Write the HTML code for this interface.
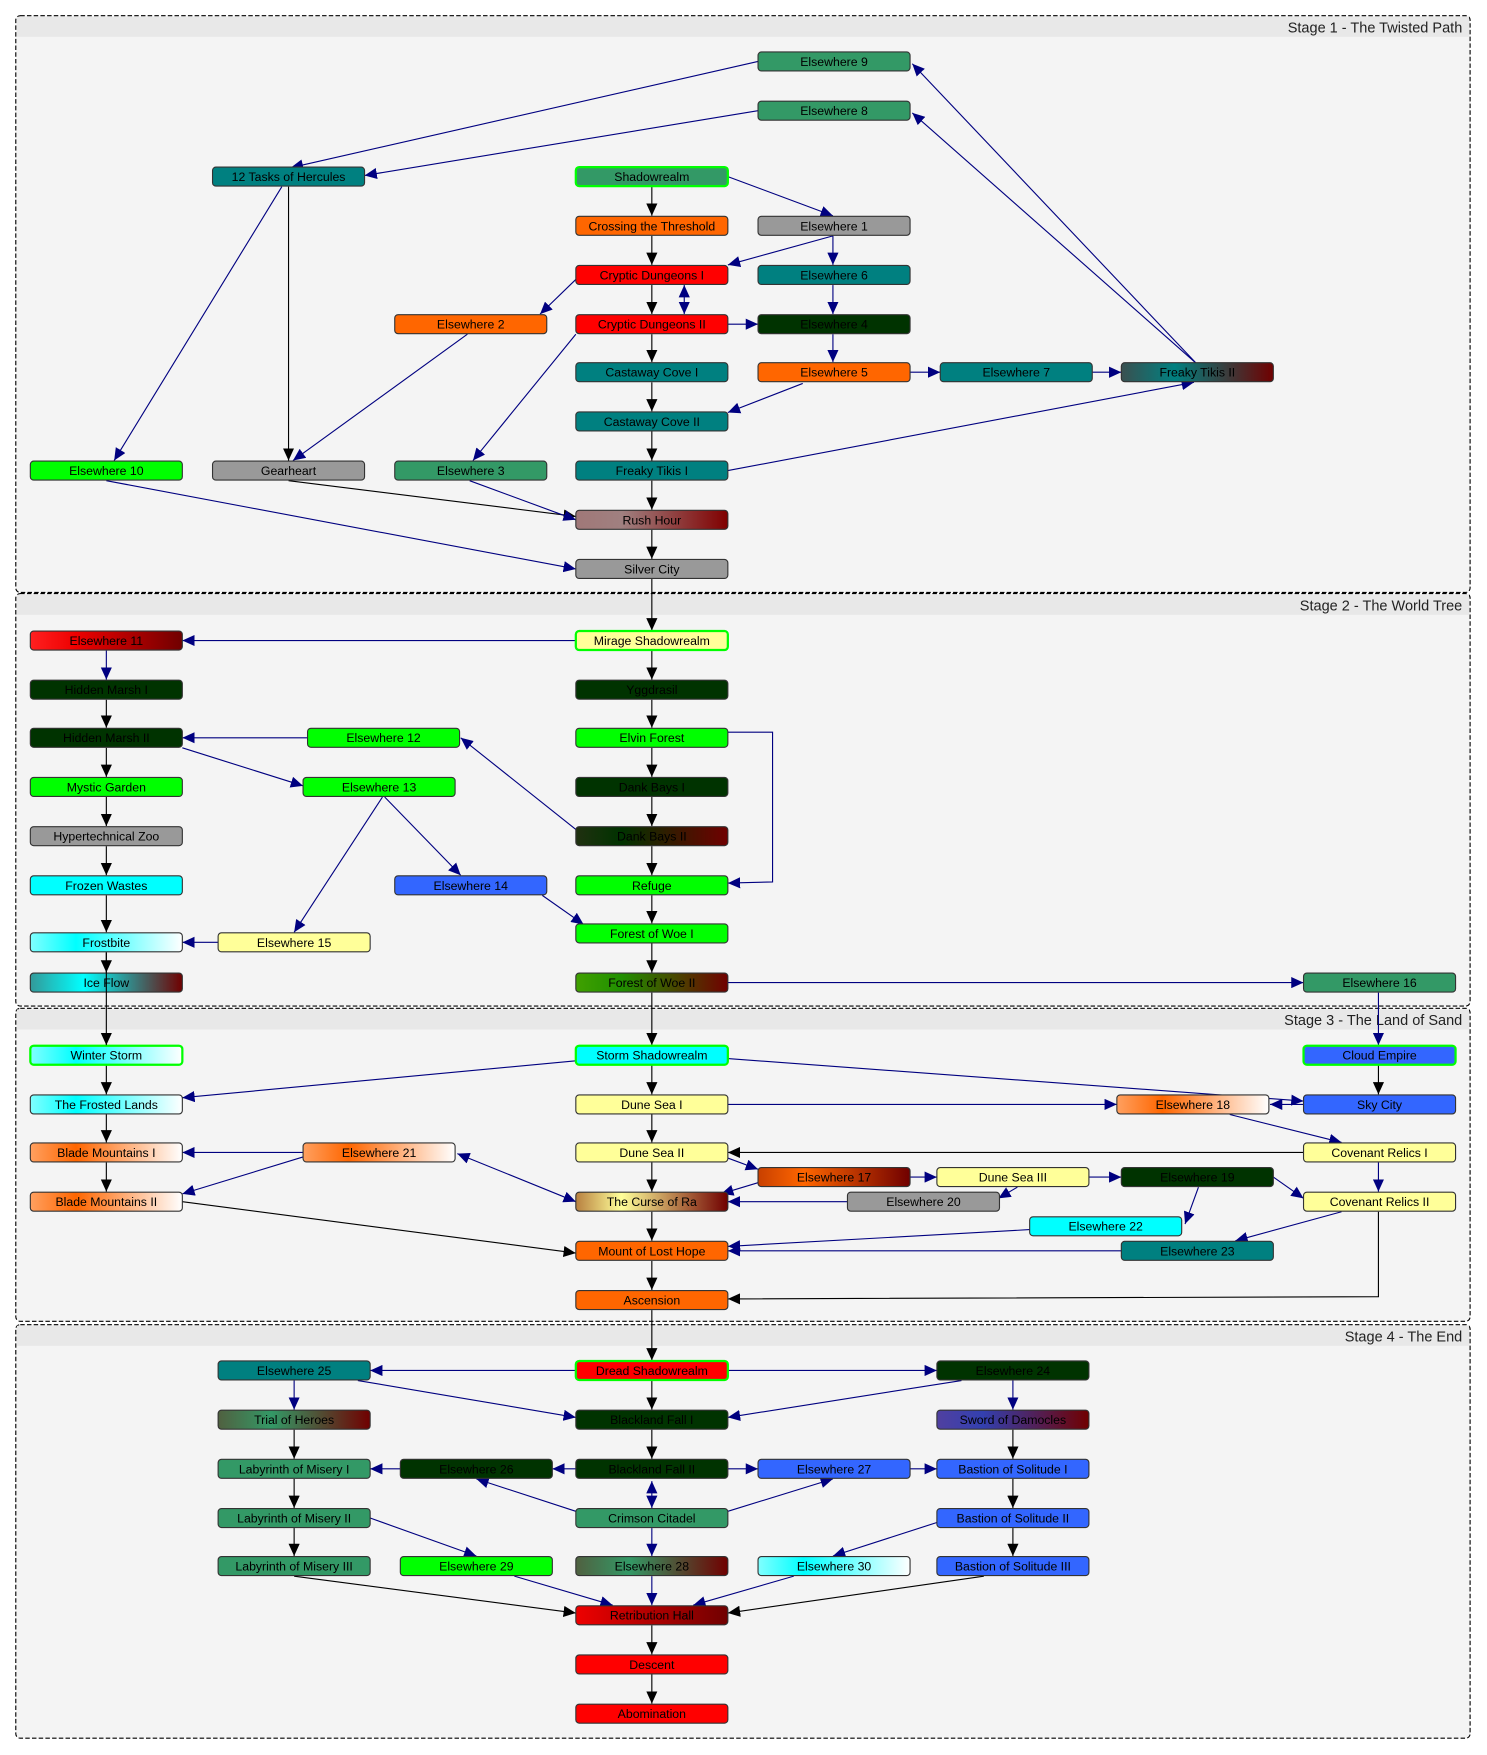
<!DOCTYPE html>
<html><head><meta charset="utf-8"><style>
html,body{margin:0;padding:0;background:#fff;}
svg{display:block;}
text{font-family:"Liberation Sans",Arial,sans-serif;}
.n text{font-size:11px;text-anchor:middle;fill:#000;}
.b{stroke:#000;stroke-width:1;fill:none;}
.v{stroke:#000080;stroke-width:1;fill:none;}
</style></head><body>
<svg width="1487" height="1755" viewBox="0 0 1330 1570" xmlns="http://www.w3.org/2000/svg">
<defs>
<marker id="ab" markerUnits="userSpaceOnUse" markerWidth="12" markerHeight="10" refX="11" refY="5" orient="auto"><path d="M0,0 L11,5 L0,10 z" fill="#000"/></marker>
<marker id="av" markerUnits="userSpaceOnUse" markerWidth="12" markerHeight="10" refX="11" refY="5" orient="auto-start-reverse"><path d="M0,0 L11,5 L0,10 z" fill="#000080"/></marker>
<linearGradient id="gTR"><stop offset="0" stop-color="#3a5050"/><stop offset=".35" stop-color="#008080"/><stop offset="1" stop-color="#700000"/></linearGradient>
<linearGradient id="gCR"><stop offset="0" stop-color="#339999"/><stop offset=".35" stop-color="#00ffff"/><stop offset="1" stop-color="#700000"/></linearGradient>
<linearGradient id="gGR"><stop offset="0" stop-color="#a07878"/><stop offset=".3" stop-color="#a08080"/><stop offset="1" stop-color="#800000"/></linearGradient>
<linearGradient id="gRR"><stop offset="0" stop-color="#ff2020"/><stop offset=".3" stop-color="#ee0000"/><stop offset="1" stop-color="#700000"/></linearGradient>
<linearGradient id="gDR"><stop offset="0" stop-color="#203010"/><stop offset=".3" stop-color="#003300"/><stop offset="1" stop-color="#700000"/></linearGradient>
<linearGradient id="gFR"><stop offset="0" stop-color="#40a000"/><stop offset=".3" stop-color="#209000"/><stop offset="1" stop-color="#700000"/></linearGradient>
<linearGradient id="gCW"><stop offset="0" stop-color="#80ffff"/><stop offset=".3" stop-color="#00ffff"/><stop offset="1" stop-color="#ffffff"/></linearGradient>
<linearGradient id="gOW"><stop offset="0" stop-color="#ffa060"/><stop offset=".3" stop-color="#ff6600"/><stop offset="1" stop-color="#ffffff"/></linearGradient>
<linearGradient id="gOR"><stop offset="0" stop-color="#c84000"/><stop offset=".3" stop-color="#ff6600"/><stop offset="1" stop-color="#700000"/></linearGradient>
<linearGradient id="gYR"><stop offset="0" stop-color="#b88040"/><stop offset=".3" stop-color="#ffff99"/><stop offset="1" stop-color="#700000"/></linearGradient>
<linearGradient id="gSR"><stop offset="0" stop-color="#506040"/><stop offset=".35" stop-color="#339966"/><stop offset="1" stop-color="#700000"/></linearGradient>
<linearGradient id="gBR"><stop offset="0" stop-color="#5040a0"/><stop offset=".3" stop-color="#3340b0"/><stop offset="1" stop-color="#700000"/></linearGradient>
<linearGradient id="gRH"><stop offset="0" stop-color="#ee0000"/><stop offset="1" stop-color="#700000"/></linearGradient>
</defs>

<!-- stages -->
<g stroke="#000" stroke-dasharray="4,2" stroke-width="1">
<rect x="14" y="14" width="1301" height="516" rx="4" fill="#f4f4f4"/>
<rect x="14" y="531" width="1301" height="369" rx="4" fill="#f4f4f4"/>
<rect x="14" y="902" width="1301" height="280" rx="4" fill="#f4f4f4"/>
<rect x="14" y="1185" width="1301" height="370" rx="4" fill="#f4f4f4"/>
</g>
<g fill="#e8e8e8">
<rect x="15" y="15" width="1299" height="18"/>
<rect x="15" y="532" width="1299" height="18"/>
<rect x="15" y="903" width="1299" height="18"/>
<rect x="15" y="1186" width="1299" height="18"/>
</g>
<g font-size="13" text-anchor="end" fill="#222">
<text x="1308" y="29">Stage 1 - The Twisted Path</text>
<text x="1308" y="546">Stage 2 - The World Tree</text>
<text x="1308" y="917">Stage 3 - The Land of Sand</text>
<text x="1308" y="1200">Stage 4 - The End</text>
</g>

<!-- edges -->
<g class="b" marker-end="url(#ab)">
<line x1="258" y1="167" x2="258" y2="412"/>
<line x1="583" y1="167" x2="583" y2="193"/>
<line x1="583" y1="211" x2="583" y2="237"/>
<line x1="583" y1="255" x2="583" y2="281"/>
<line x1="583" y1="299" x2="583" y2="324"/>
<line x1="583" y1="342" x2="583" y2="368"/>
<line x1="583" y1="386" x2="583" y2="412"/>
<line x1="583" y1="430" x2="583" y2="456"/>
<line x1="258" y1="430" x2="515" y2="462"/>
<line x1="583" y1="474" x2="583" y2="500"/>
<line x1="583" y1="518" x2="583" y2="564"/>
<line x1="583" y1="582" x2="583" y2="608"/>
<line x1="95" y1="626" x2="95" y2="651"/>
<line x1="583" y1="626" x2="583" y2="651"/>
<line x1="95" y1="669" x2="95" y2="695"/>
<line x1="583" y1="669" x2="583" y2="695"/>
<line x1="95" y1="713" x2="95" y2="739"/>
<line x1="583" y1="713" x2="583" y2="739"/>
<line x1="95" y1="757" x2="95" y2="783"/>
<line x1="583" y1="757" x2="583" y2="783"/>
<line x1="95" y1="801" x2="95" y2="834"/>
<line x1="583" y1="801" x2="583" y2="826"/>
<line x1="95" y1="852" x2="95" y2="870"/>
<line x1="583" y1="844" x2="583" y2="870"/>
<line x1="583" y1="888" x2="583" y2="935"/>
<line x1="95" y1="953" x2="95" y2="979"/>
<line x1="583" y1="953" x2="583" y2="979"/>
<line x1="1233" y1="953" x2="1233" y2="979"/>
<line x1="95" y1="997" x2="95" y2="1022"/>
<line x1="583" y1="997" x2="583" y2="1022"/>
<line x1="1166" y1="1031" x2="651" y2="1031"/>
<line x1="95" y1="1040" x2="95" y2="1066"/>
<line x1="583" y1="1040" x2="583" y2="1066"/>
<line x1="163" y1="1075" x2="515" y2="1121"/>
<line x1="583" y1="1084" x2="583" y2="1110"/>
<polyline points="1233,1084 1233,1160 651,1162"/>
<line x1="583" y1="1128" x2="583" y2="1154"/>
<line x1="583" y1="1172" x2="583" y2="1217"/>
<line x1="583" y1="1235" x2="583" y2="1261"/>
<line x1="263" y1="1279" x2="263" y2="1305"/>
<line x1="583" y1="1279" x2="583" y2="1305"/>
<line x1="906" y1="1279" x2="906" y2="1305"/>
<line x1="263" y1="1323" x2="263" y2="1349"/>
<line x1="906" y1="1323" x2="906" y2="1349"/>
<line x1="263" y1="1367" x2="263" y2="1392"/>
<line x1="906" y1="1367" x2="906" y2="1392"/>
<line x1="263" y1="1410" x2="515" y2="1443"/>
<line x1="880" y1="1410" x2="651" y2="1443"/>
<line x1="583" y1="1454" x2="583" y2="1480"/>
<line x1="583" y1="1498" x2="583" y2="1524"/>
</g>

<g class="v" marker-end="url(#av)">
<line x1="678" y1="55" x2="260" y2="150"/>
<line x1="678" y1="99" x2="326" y2="157"/>
<line x1="1070" y1="325" x2="816" y2="57"/>
<line x1="1070" y1="325" x2="816" y2="101"/>
<line x1="252" y1="167" x2="102" y2="412"/>
<line x1="651" y1="158" x2="745" y2="193"/>
<line x1="745" y1="211" x2="651" y2="237"/>
<line x1="745" y1="211" x2="745" y2="237"/>
<line x1="515" y1="250" x2="483" y2="281"/>
<line x1="612" y1="255" x2="612" y2="281" marker-start="url(#av)"/>
<line x1="651" y1="290" x2="678" y2="290"/>
<line x1="745" y1="255" x2="745" y2="281"/>
<line x1="515" y1="299" x2="423" y2="412"/>
<line x1="745" y1="299" x2="745" y2="324"/>
<line x1="814" y1="333" x2="841" y2="333"/>
<line x1="977" y1="333" x2="1003" y2="333"/>
<line x1="718" y1="343" x2="651" y2="369"/>
<line x1="418" y1="299" x2="262" y2="412"/>
<line x1="651" y1="421" x2="1068" y2="342"/>
<line x1="420" y1="430" x2="515" y2="465"/>
<line x1="95" y1="430" x2="515" y2="509"/>
<line x1="515" y1="573" x2="163" y2="573"/>
<line x1="95" y1="582" x2="95" y2="608"/>
<line x1="275" y1="660" x2="163" y2="660"/>
<polyline points="651,655 691,655 691,789 651,790"/>
<line x1="163" y1="669" x2="271" y2="703"/>
<line x1="515" y1="742" x2="412" y2="660"/>
<line x1="344" y1="713" x2="412" y2="783"/>
<line x1="342" y1="713" x2="263" y2="834"/>
<line x1="485" y1="801" x2="522" y2="827"/>
<line x1="195" y1="843" x2="163" y2="843"/>
<line x1="651" y1="879" x2="1166" y2="879"/>
<line x1="1233" y1="888" x2="1233" y2="935"/>
<line x1="515" y1="949" x2="163" y2="982"/>
<line x1="651" y1="947" x2="1166" y2="985"/>
<line x1="651" y1="988" x2="999" y2="988"/>
<line x1="1166" y1="988" x2="1136" y2="988"/>
<line x1="1100" y1="997" x2="1200" y2="1022"/>
<line x1="271" y1="1031" x2="163" y2="1031"/>
<line x1="271" y1="1035" x2="163" y2="1068"/>
<line x1="409" y1="1032" x2="515" y2="1075" marker-start="url(#av)"/>
<line x1="1233" y1="1040" x2="1233" y2="1066"/>
<line x1="651" y1="1036" x2="678" y2="1046"/>
<line x1="678" y1="1058" x2="645" y2="1068"/>
<line x1="814" y1="1053" x2="838" y2="1053"/>
<line x1="974" y1="1053" x2="1003" y2="1053"/>
<line x1="1139" y1="1053" x2="1166" y2="1072"/>
<line x1="910" y1="1062" x2="893" y2="1072"/>
<line x1="758" y1="1075" x2="651" y2="1075"/>
<line x1="1072" y1="1062" x2="1060" y2="1095"/>
<line x1="921" y1="1100" x2="651" y2="1115"/>
<line x1="1200" y1="1084" x2="1105" y2="1110"/>
<line x1="1003" y1="1119" x2="651" y2="1119"/>
<line x1="515" y1="1226" x2="331" y2="1226"/>
<line x1="651" y1="1226" x2="838" y2="1226"/>
<line x1="263" y1="1235" x2="263" y2="1261"/>
<line x1="320" y1="1235" x2="515" y2="1268"/>
<line x1="860" y1="1235" x2="651" y2="1268"/>
<line x1="906" y1="1235" x2="906" y2="1261"/>
<line x1="358" y1="1314" x2="331" y2="1314"/>
<line x1="515" y1="1314" x2="494" y2="1314"/>
<line x1="651" y1="1314" x2="678" y2="1314"/>
<line x1="814" y1="1314" x2="838" y2="1314"/>
<line x1="515" y1="1352" x2="426" y2="1323"/>
<line x1="583" y1="1325" x2="583" y2="1349" marker-start="url(#av)"/>
<line x1="651" y1="1352" x2="745" y2="1323"/>
<line x1="331" y1="1358" x2="426" y2="1392"/>
<line x1="838" y1="1362" x2="745" y2="1392"/>
<line x1="583" y1="1367" x2="583" y2="1392"/>
<line x1="460" y1="1410" x2="548" y2="1436"/>
<line x1="583" y1="1410" x2="583" y2="1436"/>
<line x1="710" y1="1410" x2="620" y2="1436"/>
</g>

<!-- nodes -->
<g class="n" stroke="#333" stroke-width="1">
<g><rect x="678" y="46.5" width="136" height="17" rx="3" fill="#339966"/><text x="746" y="59" stroke="none">Elsewhere 9</text></g>
<g><rect x="678" y="90.5" width="136" height="17" rx="3" fill="#339966"/><text x="746" y="103" stroke="none">Elsewhere 8</text></g>
<g><rect x="190" y="149.5" width="136" height="17" rx="3" fill="#008080"/><text x="258" y="162" stroke="none">12 Tasks of Hercules</text></g>
<g><rect x="515" y="149.5" width="136" height="17" rx="3" fill="#339966" stroke="#00ff00" stroke-width="2"/><text x="583" y="162" stroke="none">Shadowrealm</text></g>
<g><rect x="515" y="193.5" width="136" height="17" rx="3" fill="#ff6600"/><text x="583" y="206" stroke="none">Crossing the Threshold</text></g>
<g><rect x="678" y="193.5" width="136" height="17" rx="3" fill="#999999"/><text x="746" y="206" stroke="none">Elsewhere 1</text></g>
<g><rect x="515" y="237.5" width="136" height="17" rx="3" fill="#ff0000"/><text x="583" y="250" stroke="none">Cryptic Dungeons I</text></g>
<g><rect x="678" y="237.5" width="136" height="17" rx="3" fill="#008080"/><text x="746" y="250" stroke="none">Elsewhere 6</text></g>
<g><rect x="353" y="281.5" width="136" height="17" rx="3" fill="#ff6600"/><text x="421" y="294" stroke="none">Elsewhere 2</text></g>
<g><rect x="515" y="281.5" width="136" height="17" rx="3" fill="#ff0000"/><text x="583" y="294" stroke="none">Cryptic Dungeons II</text></g>
<g><rect x="678" y="281.5" width="136" height="17" rx="3" fill="#003300"/><text x="746" y="294" stroke="none">Elsewhere 4</text></g>
<g><rect x="515" y="324.5" width="136" height="17" rx="3" fill="#008080"/><text x="583" y="337" stroke="none">Castaway Cove I</text></g>
<g><rect x="678" y="324.5" width="136" height="17" rx="3" fill="#ff6600"/><text x="746" y="337" stroke="none">Elsewhere 5</text></g>
<g><rect x="841" y="324.5" width="136" height="17" rx="3" fill="#008080"/><text x="909" y="337" stroke="none">Elsewhere 7</text></g>
<g><rect x="1003" y="324.5" width="136" height="17" rx="3" fill="url(#gTR)"/><text x="1071" y="337" stroke="none">Freaky Tikis II</text></g>
<g><rect x="515" y="368.5" width="136" height="17" rx="3" fill="#008080"/><text x="583" y="381" stroke="none">Castaway Cove II</text></g>
<g><rect x="27" y="412.5" width="136" height="17" rx="3" fill="#00ff00"/><text x="95" y="425" stroke="none">Elsewhere 10</text></g>
<g><rect x="190" y="412.5" width="136" height="17" rx="3" fill="#999999"/><text x="258" y="425" stroke="none">Gearheart</text></g>
<g><rect x="353" y="412.5" width="136" height="17" rx="3" fill="#339966"/><text x="421" y="425" stroke="none">Elsewhere 3</text></g>
<g><rect x="515" y="412.5" width="136" height="17" rx="3" fill="#008080"/><text x="583" y="425" stroke="none">Freaky Tikis I</text></g>
<g><rect x="515" y="456.5" width="136" height="17" rx="3" fill="url(#gGR)"/><text x="583" y="469" stroke="none">Rush Hour</text></g>
<g><rect x="515" y="500.5" width="136" height="17" rx="3" fill="#999999"/><text x="583" y="513" stroke="none">Silver City</text></g>

<g><rect x="27" y="564.5" width="136" height="17" rx="3" fill="url(#gRR)"/><text x="95" y="577" stroke="none">Elsewhere 11</text></g>
<g><rect x="515" y="564.5" width="136" height="17" rx="3" fill="#ffff99" stroke="#00ff00" stroke-width="2"/><text x="583" y="577" stroke="none">Mirage Shadowrealm</text></g>
<g><rect x="27" y="608.5" width="136" height="17" rx="3" fill="#003300"/><text x="95" y="621" stroke="none">Hidden Marsh I</text></g>
<g><rect x="515" y="608.5" width="136" height="17" rx="3" fill="#003300"/><text x="583" y="621" stroke="none">Yggdrasil</text></g>
<g><rect x="27" y="651.5" width="136" height="17" rx="3" fill="#003300"/><text x="95" y="664" stroke="none">Hidden Marsh II</text></g>
<g><rect x="275" y="651.5" width="136" height="17" rx="3" fill="#00ff00"/><text x="343" y="664" stroke="none">Elsewhere 12</text></g>
<g><rect x="515" y="651.5" width="136" height="17" rx="3" fill="#00ff00"/><text x="583" y="664" stroke="none">Elvin Forest</text></g>
<g><rect x="27" y="695.5" width="136" height="17" rx="3" fill="#00ff00"/><text x="95" y="708" stroke="none">Mystic Garden</text></g>
<g><rect x="271" y="695.5" width="136" height="17" rx="3" fill="#00ff00"/><text x="339" y="708" stroke="none">Elsewhere 13</text></g>
<g><rect x="515" y="695.5" width="136" height="17" rx="3" fill="#003300"/><text x="583" y="708" stroke="none">Dank Bays I</text></g>
<g><rect x="27" y="739.5" width="136" height="17" rx="3" fill="#999999"/><text x="95" y="752" stroke="none">Hypertechnical Zoo</text></g>
<g><rect x="515" y="739.5" width="136" height="17" rx="3" fill="url(#gDR)"/><text x="583" y="752" stroke="none">Dank Bays II</text></g>
<g><rect x="27" y="783.5" width="136" height="17" rx="3" fill="#00ffff"/><text x="95" y="796" stroke="none">Frozen Wastes</text></g>
<g><rect x="353" y="783.5" width="136" height="17" rx="3" fill="#3366ff"/><text x="421" y="796" stroke="none">Elsewhere 14</text></g>
<g><rect x="515" y="783.5" width="136" height="17" rx="3" fill="#00ff00"/><text x="583" y="796" stroke="none">Refuge</text></g>
<g><rect x="515" y="826.5" width="136" height="17" rx="3" fill="#00ff00"/><text x="583" y="839" stroke="none">Forest of Woe I</text></g>
<g><rect x="27" y="834.5" width="136" height="17" rx="3" fill="url(#gCW)"/><text x="95" y="847" stroke="none">Frostbite</text></g>
<g><rect x="195" y="834.5" width="136" height="17" rx="3" fill="#ffff99"/><text x="263" y="847" stroke="none">Elsewhere 15</text></g>
<g><rect x="27" y="870.5" width="136" height="17" rx="3" fill="url(#gCR)"/><text x="95" y="883" stroke="none">Ice Flow</text></g>
<g><rect x="515" y="870.5" width="136" height="17" rx="3" fill="url(#gFR)"/><text x="583" y="883" stroke="none">Forest of Woe II</text></g>
<g><rect x="1166" y="870.5" width="136" height="17" rx="3" fill="#339966"/><text x="1234" y="883" stroke="none">Elsewhere 16</text></g>

<g><rect x="27" y="935.5" width="136" height="17" rx="3" fill="url(#gCW)" stroke="#00ff00" stroke-width="2"/><text x="95" y="948" stroke="none">Winter Storm</text></g>
<g><rect x="515" y="935.5" width="136" height="17" rx="3" fill="#00ffff" stroke="#00ff00" stroke-width="2"/><text x="583" y="948" stroke="none">Storm Shadowrealm</text></g>
<g><rect x="1166" y="935.5" width="136" height="17" rx="3" fill="#3366ff" stroke="#00ff00" stroke-width="2"/><text x="1234" y="948" stroke="none">Cloud Empire</text></g>
<g><rect x="27" y="979.5" width="136" height="17" rx="3" fill="url(#gCW)"/><text x="95" y="992" stroke="none">The Frosted Lands</text></g>
<g><rect x="515" y="979.5" width="136" height="17" rx="3" fill="#ffff99"/><text x="583" y="992" stroke="none">Dune Sea I</text></g>
<g><rect x="999" y="979.5" width="136" height="17" rx="3" fill="url(#gOW)"/><text x="1067" y="992" stroke="none">Elsewhere 18</text></g>
<g><rect x="1166" y="979.5" width="136" height="17" rx="3" fill="#3366ff"/><text x="1234" y="992" stroke="none">Sky City</text></g>
<g><rect x="27" y="1022.5" width="136" height="17" rx="3" fill="url(#gOW)"/><text x="95" y="1035" stroke="none">Blade Mountains I</text></g>
<g><rect x="271" y="1022.5" width="136" height="17" rx="3" fill="url(#gOW)"/><text x="339" y="1035" stroke="none">Elsewhere 21</text></g>
<g><rect x="515" y="1022.5" width="136" height="17" rx="3" fill="#ffff99"/><text x="583" y="1035" stroke="none">Dune Sea II</text></g>
<g><rect x="1166" y="1022.5" width="136" height="17" rx="3" fill="#ffff99"/><text x="1234" y="1035" stroke="none">Covenant Relics I</text></g>
<g><rect x="678" y="1044.5" width="136" height="17" rx="3" fill="url(#gOR)"/><text x="746" y="1057" stroke="none">Elsewhere 17</text></g>
<g><rect x="838" y="1044.5" width="136" height="17" rx="3" fill="#ffff99"/><text x="906" y="1057" stroke="none">Dune Sea III</text></g>
<g><rect x="1003" y="1044.5" width="136" height="17" rx="3" fill="#003300"/><text x="1071" y="1057" stroke="none">Elsewhere 19</text></g>
<g><rect x="27" y="1066.5" width="136" height="17" rx="3" fill="url(#gOW)"/><text x="95" y="1079" stroke="none">Blade Mountains II</text></g>
<g><rect x="515" y="1066.5" width="136" height="17" rx="3" fill="url(#gYR)"/><text x="583" y="1079" stroke="none">The Curse of Ra</text></g>
<g><rect x="758" y="1066.5" width="136" height="17" rx="3" fill="#999999"/><text x="826" y="1079" stroke="none">Elsewhere 20</text></g>
<g><rect x="1166" y="1066.5" width="136" height="17" rx="3" fill="#ffff99"/><text x="1234" y="1079" stroke="none">Covenant Relics II</text></g>
<g><rect x="921" y="1088.5" width="136" height="17" rx="3" fill="#00ffff"/><text x="989" y="1101" stroke="none">Elsewhere 22</text></g>
<g><rect x="515" y="1110.5" width="136" height="17" rx="3" fill="#ff6600"/><text x="583" y="1123" stroke="none">Mount of Lost Hope</text></g>
<g><rect x="1003" y="1110.5" width="136" height="17" rx="3" fill="#008080"/><text x="1071" y="1123" stroke="none">Elsewhere 23</text></g>
<g><rect x="515" y="1154.5" width="136" height="17" rx="3" fill="#ff6600"/><text x="583" y="1167" stroke="none">Ascension</text></g>

<g><rect x="195" y="1217.5" width="136" height="17" rx="3" fill="#008080"/><text x="263" y="1230" stroke="none">Elsewhere 25</text></g>
<g><rect x="515" y="1217.5" width="136" height="17" rx="3" fill="#ff0000" stroke="#00ff00" stroke-width="2"/><text x="583" y="1230" stroke="none">Dread Shadowrealm</text></g>
<g><rect x="838" y="1217.5" width="136" height="17" rx="3" fill="#003300"/><text x="906" y="1230" stroke="none">Elsewhere 24</text></g>
<g><rect x="195" y="1261.5" width="136" height="17" rx="3" fill="url(#gSR)"/><text x="263" y="1274" stroke="none">Trial of Heroes</text></g>
<g><rect x="515" y="1261.5" width="136" height="17" rx="3" fill="#003300"/><text x="583" y="1274" stroke="none">Blackland Fall I</text></g>
<g><rect x="838" y="1261.5" width="136" height="17" rx="3" fill="url(#gBR)"/><text x="906" y="1274" stroke="none">Sword of Damocles</text></g>
<g><rect x="195" y="1305.5" width="136" height="17" rx="3" fill="#339966"/><text x="263" y="1318" stroke="none">Labyrinth of Misery I</text></g>
<g><rect x="358" y="1305.5" width="136" height="17" rx="3" fill="#003300"/><text x="426" y="1318" stroke="none">Elsewhere 26</text></g>
<g><rect x="515" y="1305.5" width="136" height="17" rx="3" fill="#003300"/><text x="583" y="1318" stroke="none">Blackland Fall II</text></g>
<g><rect x="678" y="1305.5" width="136" height="17" rx="3" fill="#3366ff"/><text x="746" y="1318" stroke="none">Elsewhere 27</text></g>
<g><rect x="838" y="1305.5" width="136" height="17" rx="3" fill="#3366ff"/><text x="906" y="1318" stroke="none">Bastion of Solitude I</text></g>
<g><rect x="195" y="1349.5" width="136" height="17" rx="3" fill="#339966"/><text x="263" y="1362" stroke="none">Labyrinth of Misery II</text></g>
<g><rect x="515" y="1349.5" width="136" height="17" rx="3" fill="#339966"/><text x="583" y="1362" stroke="none">Crimson Citadel</text></g>
<g><rect x="838" y="1349.5" width="136" height="17" rx="3" fill="#3366ff"/><text x="906" y="1362" stroke="none">Bastion of Solitude II</text></g>
<g><rect x="195" y="1392.5" width="136" height="17" rx="3" fill="#339966"/><text x="263" y="1405" stroke="none">Labyrinth of Misery III</text></g>
<g><rect x="358" y="1392.5" width="136" height="17" rx="3" fill="#00ff00"/><text x="426" y="1405" stroke="none">Elsewhere 29</text></g>
<g><rect x="515" y="1392.5" width="136" height="17" rx="3" fill="url(#gSR)"/><text x="583" y="1405" stroke="none">Elsewhere 28</text></g>
<g><rect x="678" y="1392.5" width="136" height="17" rx="3" fill="url(#gCW)"/><text x="746" y="1405" stroke="none">Elsewhere 30</text></g>
<g><rect x="838" y="1392.5" width="136" height="17" rx="3" fill="#3366ff"/><text x="906" y="1405" stroke="none">Bastion of Solitude III</text></g>
<g><rect x="515" y="1436.5" width="136" height="17" rx="3" fill="url(#gRH)"/><text x="583" y="1449" stroke="none">Retribution Hall</text></g>
<g><rect x="515" y="1480.5" width="136" height="17" rx="3" fill="#ff0000"/><text x="583" y="1493" stroke="none">Descent</text></g>
<g><rect x="515" y="1524.5" width="136" height="17" rx="3" fill="#ff0000"/><text x="583" y="1537" stroke="none">Abomination</text></g>
</g>
<!-- Ice Flow edge drawn over node -->
<line x1="95" y1="852" x2="95" y2="935" stroke="#000" marker-end="url(#ab)"/>
</svg>
</body></html>
